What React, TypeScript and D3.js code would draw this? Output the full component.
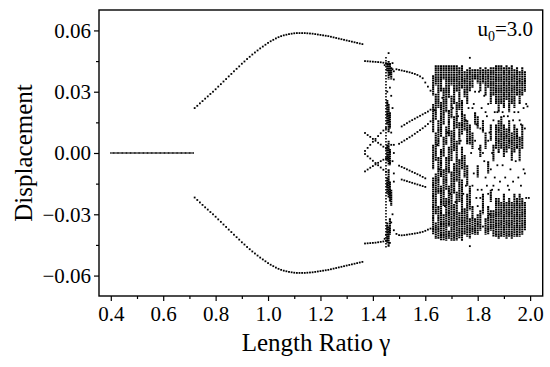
import React, { useEffect, useRef } from 'react';
import * as d3 from 'd3';

// period-1 branch (gamma 0.400 .. 0.715, step 0.005)
const zeroStart = 0.4;
const zeroValues = [
  0, 0, 0, 0, 0, 0, 0, 0, 0, 0, 0, 0, 0, 0, 0, 0,
  0, 0, 0, 0, 0, 0, 0, 0, 0, 0, 0, 0, 0, 0, 0, 0,
  0, 0, 0, 0, 0, 0, 0, 0, 0, 0, 0, 0, 0, 0, 0, 0,
  0, 0, 0, 0, 0, 0, 0, 0, 0, 0, 0, 0, 0, 0, 0, 0,
];

// symmetric pair (gamma 0.72 .. 1.36, step 0.01)
const pairStart = 0.72;
const upperValues = [
  0.0220, 0.0231, 0.0243, 0.0254, 0.0266, 0.0277, 0.0289, 0.0300, 0.0312, 0.0325,
  0.0337, 0.0350, 0.0362, 0.0375, 0.0387, 0.0400, 0.0412, 0.0424, 0.0437, 0.0448,
  0.0460, 0.0471, 0.0482, 0.0492, 0.0502, 0.0512, 0.0521, 0.0530, 0.0539, 0.0547,
  0.0554, 0.0561, 0.0567, 0.0572, 0.0576, 0.0579, 0.0582, 0.0584, 0.0586, 0.0587,
  0.0587, 0.0587, 0.0587, 0.0586, 0.0585, 0.0584, 0.0582, 0.0580, 0.0578, 0.0576,
  0.0574, 0.0572, 0.0569, 0.0566, 0.0563, 0.0560, 0.0557, 0.0554, 0.0551, 0.0548,
  0.0545, 0.0542, 0.0539, 0.0536, 0.0533,
];
const lowerValues = [
  -0.0218, -0.0230, -0.0242, -0.0254, -0.0266, -0.0277, -0.0289, -0.0300, -0.0312, -0.0325,
  -0.0337, -0.0350, -0.0362, -0.0375, -0.0387, -0.0400, -0.0412, -0.0424, -0.0437, -0.0448,
  -0.0460, -0.0471, -0.0482, -0.0492, -0.0502, -0.0512, -0.0521, -0.0530, -0.0539, -0.0547,
  -0.0554, -0.0561, -0.0567, -0.0572, -0.0576, -0.0579, -0.0582, -0.0584, -0.0586, -0.0587,
  -0.0587, -0.0587, -0.0587, -0.0586, -0.0585, -0.0584, -0.0582, -0.0580, -0.0578, -0.0576,
  -0.0574, -0.0572, -0.0569, -0.0566, -0.0563, -0.0560, -0.0557, -0.0554, -0.0551, -0.0548,
  -0.0545, -0.0542, -0.0539, -0.0536, -0.0533,
];

// gamma 1.37 .. 1.45, step 0.01
const midStart = 1.37;
const midOuterUp = [0.0450, 0.0449, 0.0448, 0.0447, 0.0446, 0.0445, 0.0444, 0.0442, 0.0440];
const midOuterLow = [-0.0443, -0.0442, -0.0441, -0.0440, -0.0439, -0.0437, -0.0435, -0.0433, -0.0430];
const midX1 = [0.0098, 0.0088, 0.0079, 0.0069, 0.0060, 0.0050, 0.0041, 0.0031, 0.0022];
const midX2 = [0.0010, 0.0025, 0.0040, 0.0055, 0.0069, 0.0083, 0.0097, 0.0110, 0.0122];
const midX3 = [-0.0090, -0.0081, -0.0072, -0.0064, -0.0056, -0.0048, -0.0040, -0.0033, -0.0026];
const midX4 = [-0.0005, -0.0016, -0.0027, -0.0038, -0.0049, -0.0060, -0.0071, -0.0082, -0.0092];

// chaotic band near gamma 1.46
const bandGamma = [1.455, 1.46, 1.465, 1.47];
const bandIntervals = [
  [[0.044, 0.040], [0.026, 0.014], [0.004, -0.004], [-0.012, -0.020], [-0.034, -0.044]],
  [[0.045, 0.036], [0.024, 0.010], [0.006, -0.006], [-0.008, -0.022], [-0.036, -0.046]],
  [[0.044, 0.038], [0.020, 0.012], [0.002, -0.006], [-0.014, -0.024], [-0.032, -0.040]],
  [[0.042, 0.036], [-0.018, -0.026]],
];
const bandSparse = [[1.45, 0.047, -0.047]];
const bandScatter = [
  [1.46, 0.0489], [1.455, 0.030], [1.465, 0.032], [1.47, 0.028], [1.475, 0.041], [1.475, 0.044],
  [1.48, 0.040], [1.48, 0.036], [1.475, 0.022], [1.48, 0.004], [1.48, 0.000], [1.475, -0.004],
  [1.48, -0.010], [1.48, -0.014], [1.475, -0.030], [1.47, -0.034], [1.465, -0.044], [1.47, 0.010],
  [1.47, 0.004], [1.45, -0.040], [1.445, 0.043], [1.445, -0.042],
];

// branches between the band and the chaos
const lateOuterUp = { start: 1.49, values: [0.0410, 0.0407, 0.0404, 0.0401, 0.0398, 0.0395, 0.0391, 0.0387, 0.0382, 0.0375, 0.0366, 0.0345, 0.0325, 0.0305] };
const lateInnerA = { start: 1.51, values: [0.0130, 0.0138, 0.0146, 0.0154, 0.0161, 0.0168, 0.0175, 0.0182, 0.0189, 0.0196, 0.0203, 0.0212] };
const lateInnerB = { start: 1.50, values: [0.0045, 0.0053, 0.0061, 0.0069, 0.0077, 0.0085, 0.0094, 0.0103, 0.0112, 0.0121, 0.0131, 0.0142, 0.0155] };
const lateInnerC = { start: 1.50, values: [-0.0062, -0.0068, -0.0074, -0.0080, -0.0086, -0.0092, -0.0098, -0.0104, -0.0110, -0.0117, -0.0124] };
const lateInnerD = { start: 1.51, values: [-0.0130, -0.0134, -0.0138, -0.0142, -0.0146, -0.0150, -0.0154, -0.0158, -0.0162, -0.0166] };
const lateOuterLow = { start: 1.48, values: [-0.0378, -0.0396, -0.0402, -0.0403, -0.0402, -0.0400, -0.0398, -0.0396, -0.0394, -0.0392, -0.0389, -0.0386, -0.0381, -0.0375, -0.0370] };

// chaotic region, gamma 1.63 .. 1.98 step 0.01, dense intervals [hi, lo]
const chaosStart = 1.63;
const chaosIntervals = [
  [[0.038, 0.028], [0.024, 0.010], [0.004, -0.008], [-0.012, -0.040]],
  [[0.043, 0.033], [0.029, 0.016], [0.010, -0.004], [-0.010, -0.030], [-0.034, -0.042]],
  [[0.043, 0.022], [0.016, 0.003], [-0.002, -0.020], [-0.026, -0.042]],
  [[0.043, 0.030], [0.025, 0.008], [0.002, -0.012], [-0.016, -0.043]],
  [[0.043, 0.036], [0.032, 0.014], [0.008, -0.002], [-0.008, -0.026], [-0.030, -0.043]],
  [[0.043, 0.020], [0.013, 0.004], [-0.002, -0.018], [-0.022, -0.043]],
  [[0.043, 0.027], [0.021, 0.008], [0.003, -0.010], [-0.016, -0.036], [-0.038, -0.042]],
  [[0.043, 0.033], [0.028, 0.017], [0.011, -0.004], [-0.009, -0.043]],
  [[0.043, 0.024], [0.018, 0.001], [-0.005, -0.020], [-0.025, -0.043]],
  [[0.043, 0.030], [0.025, 0.012], [0.006, -0.014], [-0.019, -0.043]],
  [[0.042, 0.021], [0.015, 0.004], [-0.003, -0.024], [-0.029, -0.042]],
  [[0.043, 0.032], [0.026, 0.009], [0.003, -0.008], [-0.013, -0.043]],
  [[0.040, 0.027], [0.019, 0.011], [-0.001, -0.012], [-0.027, -0.040]],
  [[0.041, 0.024], [0.016, 0.004], [-0.006, -0.016], [-0.020, -0.041]],
  [[0.042, 0.030], [0.014, 0.004], [-0.016, -0.028], [-0.032, -0.042]],
  [[0.041, 0.032], [0.010, 0.002], [-0.026, -0.040]],
  [[0.041, 0.036], [0.020, 0.014], [-0.032, -0.040]],
  [[0.041, 0.034], [0.018, 0.012], [-0.006, -0.012], [-0.030, -0.040]],
  [[0.042, 0.030], [0.004, -0.002], [-0.028, -0.038]],
  [[0.041, 0.034], [0.016, 0.010], [-0.020, -0.030]],
  [[0.042, 0.028], [0.010, 0.002], [-0.032, -0.040]],
  [[0.041, 0.032], [-0.004, -0.010], [-0.026, -0.040]],
  [[0.042, 0.024], [0.014, 0.006], [-0.018, -0.024], [-0.028, -0.038]],
  [[0.042, 0.028], [0.004, -0.004], [-0.028, -0.041]],
  [[0.043, 0.024], [0.014, 0.002], [-0.022, -0.041]],
  [[0.043, 0.020], [0.016, 0.000], [-0.022, -0.042]],
  [[0.043, 0.024], [0.018, 0.002], [-0.024, -0.041]],
  [[0.042, 0.022], [0.014, -0.002], [-0.020, -0.041]],
  [[0.043, 0.026], [0.012, 0.000], [-0.024, -0.042]],
  [[0.042, 0.020], [0.016, 0.002], [-0.022, -0.041]],
  [[0.043, 0.024], [0.010, -0.004], [-0.024, -0.042]],
  [[0.041, 0.022], [0.014, 0.000], [-0.020, -0.041]],
  [[0.042, 0.028], [0.012, 0.002], [-0.022, -0.041]],
  [[0.040, 0.024], [0.008, -0.004], [-0.020, -0.041]],
  [[0.042, 0.028], [0.014, 0.002], [-0.022, -0.040]],
  [[0.040, 0.030], [-0.024, -0.038]],
];
const chaosScatter = [
  [1.635, 0.021], [1.645, 0.004], [1.655, -0.008], [1.665, 0.027], [1.675, -0.026], [1.685, 0.010],
  [1.695, -0.020], [1.705, 0.022], [1.715, -0.024], [1.725, 0.018], [1.735, 0.006], [1.745, -0.020],
  [1.755, 0.016], [1.755, -0.016], [1.765, 0.022], [1.775, 0.000], [1.785, 0.024], [1.785, -0.010],
  [1.795, 0.014], [1.795, -0.022], [1.805, 0.030], [1.805, 0.002], [1.815, -0.018], [1.815, 0.022],
  [1.825, 0.028], [1.825, -0.004], [1.835, -0.016], [1.835, 0.018], [1.845, 0.010], [1.845, -0.030],
  [1.855, 0.000], [1.855, -0.018], [1.865, 0.020], [1.865, -0.012], [1.875, -0.006], [1.875, 0.020],
  [1.885, -0.014], [1.895, -0.006], [1.895, 0.020], [1.905, -0.012], [1.915, 0.018], [1.915, -0.016],
  [1.925, -0.008], [1.935, 0.016], [1.935, -0.014], [1.945, -0.004], [1.955, 0.020], [1.955, -0.012],
  [1.965, 0.014], [1.965, -0.016], [1.975, -0.008], [1.975, 0.022], [1.985, 0.024], [1.985, -0.022],
  [1.79, 0.030], [1.78, -0.016], [1.80, -0.026], [1.82, 0.000], [1.84, 0.024], [1.86, 0.016],
  [1.88, -0.018], [1.90, 0.018], [1.92, -0.018], [1.94, 0.020], [1.96, 0.016], [1.98, 0.012],
  [1.98, -0.010], [1.77, 0.0466], [1.77, -0.0456], [1.74, 0.032], [1.99, 0.0228], [1.995, -0.022],
  [1.79, 0.006], [1.80, -0.018], [1.81, 0.012], [1.83, -0.012], [1.84, 0.006], [1.85, -0.008],
  [1.81, -0.022], [1.83, 0.020], [1.86, -0.016], [1.78, 0.022], [1.82, -0.036], [1.84, -0.020],
];

const xTicks = [0.4, 0.6, 0.8, 1.0, 1.2, 1.4, 1.6, 1.8, 2.0];
const xMinor = [0.5, 0.7, 0.9, 1.1, 1.3, 1.5, 1.7, 1.9];
const yTicks = [-0.06, -0.03, 0, 0.03, 0.06];
const yMinor = [-0.045, -0.015, 0.015, 0.045];

function branchPoints(start, step, values) {
  return values.map((v, i) => [start + i * step, v]);
}

function App() {
  const svgRef = useRef(null);
  const width = 550;
  const height = 367;

  useEffect(() => {
    const svg = d3.select(svgRef.current);
    svg.selectAll('*').remove();

    const x = d3.scaleLinear().domain([0.355, 2.048]).range([99, 542.7]);
    const y = d3.scaleLinear().domain([-0.07, 0.07]).range([296, 10]);
    const font = "'Liberation Serif', 'Times New Roman', serif";

    // zero branch: finer dots
    svg.append('g')
      .selectAll('rect')
      .data(branchPoints(zeroStart, 0.005, zeroValues))
      .join('rect')
      .attr('x', d => x(d[0]) - 0.55)
      .attr('y', d => y(d[1]) - 0.8)
      .attr('width', 1.1)
      .attr('height', 1.6)
      .attr('fill', '#000');

    // other dots
    let pts = [];
    pts = pts.concat(branchPoints(pairStart, 0.01, upperValues));
    pts = pts.concat(branchPoints(pairStart, 0.01, lowerValues));
    [midOuterUp, midOuterLow, midX1, midX2, midX3, midX4].forEach(arr => {
      pts = pts.concat(branchPoints(midStart, 0.01, arr));
    });
    [lateOuterUp, lateInnerA, lateInnerB, lateInnerC, lateInnerD, lateOuterLow].forEach(b => {
      pts = pts.concat(branchPoints(b.start, 0.01, b.values));
    });
    pts = pts.concat(bandScatter, chaosScatter);

    svg.append('g')
      .selectAll('rect')
      .data(pts)
      .join('rect')
      .attr('x', d => x(d[0]) - 0.9)
      .attr('y', d => y(d[1]) - 0.9)
      .attr('width', 1.8)
      .attr('height', 1.8)
      .attr('fill', '#000');

    // dense columns
    let cols = [];
    bandIntervals.forEach((ivs, i) => ivs.forEach(iv => cols.push([bandGamma[i], iv[0], iv[1]])));
    chaosIntervals.forEach((ivs, i) => ivs.forEach(iv => cols.push([chaosStart + i * 0.01, iv[0], iv[1]])));

    svg.append('g')
      .selectAll('line')
      .data(cols)
      .join('line')
      .attr('x1', d => x(d[0]))
      .attr('x2', d => x(d[0]))
      .attr('y1', d => y(d[1]))
      .attr('y2', d => y(d[2]))
      .attr('stroke', '#000')
      .attr('stroke-width', 2.1)
      .attr('stroke-dasharray', '1.8,0.4');

    svg.append('g')
      .selectAll('line')
      .data(bandSparse)
      .join('line')
      .attr('x1', d => x(d[0]))
      .attr('x2', d => x(d[0]))
      .attr('y1', d => y(d[1]))
      .attr('y2', d => y(d[2]))
      .attr('stroke', '#000')
      .attr('stroke-width', 1.6)
      .attr('stroke-dasharray', '1.5,1.5');

    // axes
    const fmtY = d3.format('.2f');
    const fmtX = d3.format('.1f');

    const yAxis = svg.append('g')
      .attr('transform', 'translate(99,0)')
      .call(d3.axisLeft(y).tickValues(yTicks).tickFormat(fmtY).tickSize(5).tickPadding(3));
    svg.append('g')
      .attr('transform', 'translate(99,0)')
      .call(d3.axisLeft(y).tickValues(yMinor).tickFormat(() => '').tickSize(3))
      .call(g => g.select('.domain').remove())
      .selectAll('line').attr('stroke-width', 1.2);

    const xAxis = svg.append('g')
      .attr('transform', 'translate(0,296)')
      .call(d3.axisBottom(x).tickValues(xTicks).tickFormat(fmtX).tickSize(5).tickPadding(5));
    svg.append('g')
      .attr('transform', 'translate(0,296)')
      .call(d3.axisBottom(x).tickValues(xMinor).tickFormat(() => '').tickSize(3))
      .call(g => g.select('.domain').remove())
      .selectAll('line').attr('stroke-width', 1.2);

    [yAxis, xAxis].forEach(g => {
      g.attr('font-family', font).attr('font-size', 21);
      g.select('.domain').remove();
      g.selectAll('line').attr('stroke-width', 1.2);
      g.selectAll('text')
        .attr('font-family', font)
        .attr('font-size', 21)
        .attr('fill', '#000');
    });

    // frame
    svg.append('rect')
      .attr('x', 99)
      .attr('y', 10)
      .attr('width', 443.7)
      .attr('height', 286)
      .attr('fill', 'none')
      .attr('stroke', '#000')
      .attr('stroke-width', 1.4);

    // titles
    svg.append('text')
      .attr('x', 316)
      .attr('y', 351)
      .attr('text-anchor', 'middle')
      .attr('font-family', font)
      .attr('font-size', 25)
      .text('Length Ratio γ');

    svg.append('text')
      .attr('transform', 'translate(32,153) rotate(-90)')
      .attr('text-anchor', 'middle')
      .attr('font-family', font)
      .attr('font-size', 25)
      .text('Displacement');

    const lab = svg.append('text')
      .attr('x', 533)
      .attr('y', 36)
      .attr('text-anchor', 'end')
      .attr('font-family', font)
      .attr('font-size', 21);
    lab.append('tspan').text('u');
    lab.append('tspan').attr('dy', 5).attr('font-size', 14).text('0');
    lab.append('tspan').attr('dy', -5).text('=3.0');
  }, []);

  return (
    <svg
      ref={svgRef}
      width={width}
      height={height}
      style={{ position: 'absolute', left: 0, top: 0, background: '#fff' }}
    />
  );
}

export default App;
